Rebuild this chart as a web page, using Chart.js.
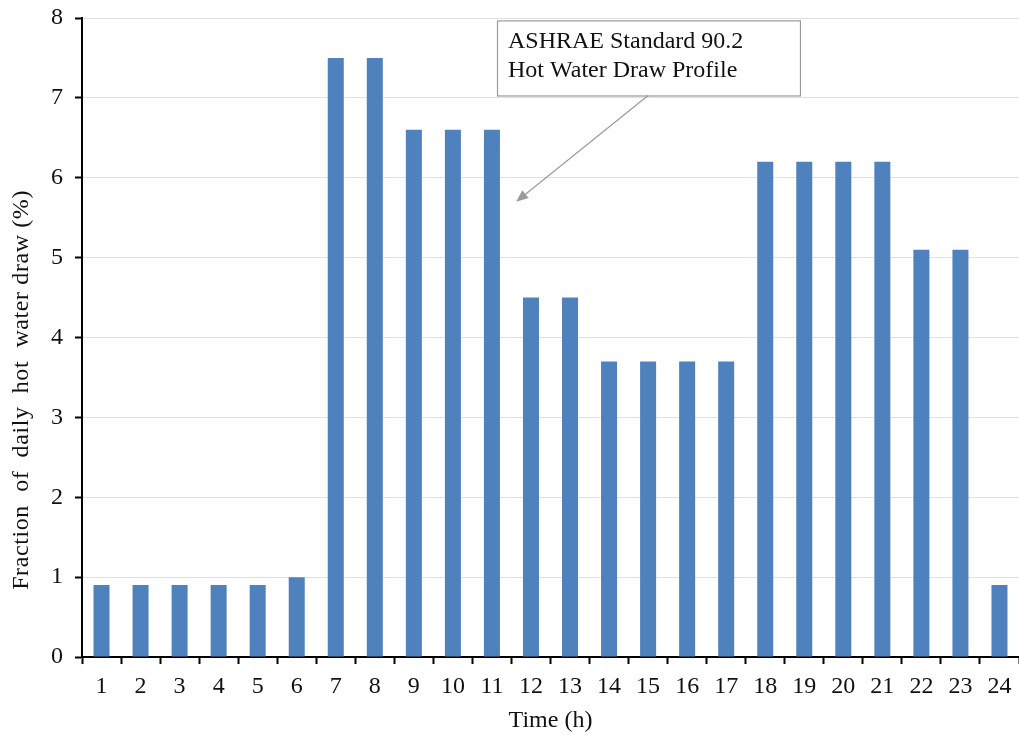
<!DOCTYPE html>
<html>
<head>
<meta charset="utf-8">
<script src="https://cdn.jsdelivr.net/npm/chart.js@4/dist/chart.umd.min.js"></script>
<style>
  html, body { margin: 0; padding: 0; background: #fff; }
  #wrap { width: 1019px; height: 735px; }
</style>
</head>
<body>
<div id="wrap"><canvas id="c" width="1019" height="735"></canvas></div>
<script>
// Hour of day
const hours = ['1','2','3','4','5','6','7','8','9','10','11','12','13','14','15','16','17','18','19','20','21','22','23','24'];
// Fraction of the daily hot water draw in each hour (%)
const drawFraction = [0.9, 0.9, 0.9, 0.9, 0.9, 1.0, 7.5, 7.5, 6.6, 6.6, 6.6, 4.5, 4.5, 3.7, 3.7, 3.7, 3.7, 6.2, 6.2, 6.2, 6.2, 5.1, 5.1, 0.9];
// Y axis tick range
const yMin = 0, yMax = 8, yStep = 1;
// Axis and callout text
const yTitle = 'Fraction  of  daily  hot  water draw (%)';
const calloutLines = ['ASHRAE Standard 90.2', 'Hot Water Draw Profile'];

const serif = '"Liberation Serif", "DejaVu Serif", serif';

// Vertical axis title, sitting a little below the middle of the axis
const yTitlePlugin = {
  id: 'yTitle',
  afterDraw(chart) {
    const { ctx, chartArea } = chart;
    ctx.save();
    ctx.translate(22, chartArea.top + (chartArea.bottom - chartArea.top) * 0.582);
    ctx.rotate(-Math.PI / 2);
    ctx.font = '24px ' + serif;
    if ('letterSpacing' in ctx) ctx.letterSpacing = '0.6px';
    ctx.fillStyle = '#111';
    ctx.textAlign = 'center';
    ctx.textBaseline = 'middle';
    ctx.fillText(yTitle, 0, 0);
    ctx.restore();
  }
};

// Draws the text callout with a leader arrow pointing at the morning peak
const calloutPlugin = {
  id: 'callout',
  afterDatasetsDraw(chart) {
    const { ctx, scales: { x, y } } = chart;
    const catW = x.getPixelForValue(1) - x.getPixelForValue(0);
    // box anchored in data space
    const bx = x.getPixelForValue(10.13);
    const bw = catW * 7.76;
    const by = y.getPixelForValue(7.97);
    const bh = y.getPixelForValue(7.03) - by;
    ctx.save();
    ctx.fillStyle = '#fff';
    ctx.fillRect(bx, by, bw, bh);
    ctx.strokeStyle = '#9a9a9a';
    ctx.lineWidth = 1.2;
    ctx.strokeRect(bx + 0.5, by + 0.5, bw, bh);
    ctx.fillStyle = '#111';
    ctx.font = '24px ' + serif;
    ctx.textBaseline = 'middle';
    ctx.textAlign = 'left';
    ctx.fillText(calloutLines[0], bx + 11, by + bh * 0.29);
    ctx.fillText(calloutLines[1], bx + 11, by + bh * 0.67);

    // leader arrow
    const x0 = x.getPixelForValue(14.0), y0 = by + bh;
    const x1 = x.getPixelForValue(10.62), y1 = y.getPixelForValue(5.7);
    ctx.strokeStyle = '#9a9a9a';
    ctx.fillStyle = '#9a9a9a';
    ctx.lineWidth = 1.2;
    const ang = Math.atan2(y1 - y0, x1 - x0);
    const head = 12, hw = 5;
    ctx.beginPath();
    ctx.moveTo(x0, y0);
    ctx.lineTo(x1 - Math.cos(ang) * head * 0.8, y1 - Math.sin(ang) * head * 0.8);
    ctx.stroke();
    ctx.beginPath();
    ctx.moveTo(x1, y1);
    ctx.lineTo(x1 - Math.cos(ang) * head - Math.sin(ang) * hw, y1 - Math.sin(ang) * head + Math.cos(ang) * hw);
    ctx.lineTo(x1 - Math.cos(ang) * head + Math.sin(ang) * hw, y1 - Math.sin(ang) * head - Math.cos(ang) * hw);
    ctx.closePath();
    ctx.fill();
    ctx.restore();
  }
};

new Chart(document.getElementById('c'), {
  type: 'bar',
  data: {
    labels: hours,
    datasets: [{
      data: drawFraction,
      backgroundColor: '#4F81BD',
      borderWidth: 0,
      categoryPercentage: 1.0,
      barPercentage: 0.41
    }]
  },
  options: {
    responsive: false,
    animation: false,
    devicePixelRatio: 1,
    layout: { padding: { top: 0, right: 0, bottom: 0, left: 0 } },
    plugins: {
      legend: { display: false },
      tooltip: { enabled: false }
    },
    scales: {
      x: {
        grid: {
          offset: true,
          drawOnChartArea: false,
          drawTicks: true,
          tickLength: 7,
          tickColor: '#000',
          tickWidth: 2
        },
        border: { display: true, color: '#000', width: 2 },
        ticks: {
          color: '#111',
          font: { family: serif, size: 24 },
          padding: 8,
          maxRotation: 0,
          autoSkip: false
        },
        title: {
          display: true,
          text: 'Time (h)',
          color: '#111',
          font: { family: serif, size: 24 },
          padding: { top: 0, bottom: 0 }
        },
        afterFit(scale) { scale.height = 78; scale.paddingLeft = 0; scale.paddingRight = 0; }
      },
      y: {
        min: yMin,
        max: yMax,
        grid: {
          color: '#e0e0e0',
          lineWidth: 1,
          drawTicks: true,
          tickLength: 7,
          tickColor: '#000',
          tickWidth: 2
        },
        border: { display: true, color: '#000', width: 2 },
        ticks: {
          stepSize: yStep,
          color: '#111',
          font: { family: serif, size: 24 },
          padding: 12
        },
        afterFit(scale) { scale.width = 82; scale.paddingTop = 18; scale.paddingBottom = 0; }
      }
    }
  },
  plugins: [calloutPlugin, yTitlePlugin]
});
</script>
</body>
</html>
